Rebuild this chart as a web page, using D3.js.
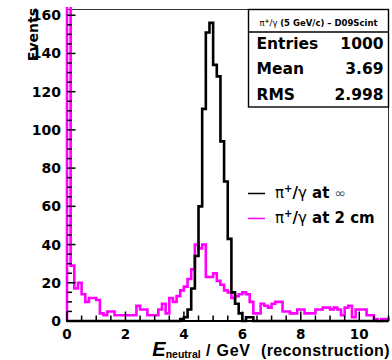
<!DOCTYPE html>
<html><head><meta charset="utf-8">
<script src="https://cdn.jsdelivr.net/npm/d3@7/dist/d3.min.js"></script>
<style>
body{margin:0;background:#fff}
svg text{font-family:"DejaVu Sans",sans-serif;font-weight:bold;fill:#000}
</style>
</head><body>
<svg id="chart" width="392" height="360"></svg>
<script>
// ---------------- data ----------------
const xRange = [0, 11];          // histogram axis range (GeV)
const binWidth = 0.125;          // 88 bins
const yRange = [0, 163];
const xTickLabels = [0, 2, 4, 6, 8, 10];
const yTickLabels = [0, 20, 40, 60, 80, 100, 120, 140, 160];

// pi+/gamma at infinity (black)
const blackCounts = [
  0,0,0,0,0,0,0,0,0,0,
  0,0,0,0,0,0,0,0,0,0,
  0,0,0,0,0,0,0,0,0,0,
  0,1,2,6,17,34,60,111,151,156,
  134,128,94,73,43,15,9,4,0,2,
  2,0,0,0,0,0,0,0,0,0,
  0,0,0,0,0,0,0,0,0,0,
  0,0,0,0,0,0,0,0,0,0,
  0,0,0,0,0,0,0,0
];
// pi+/gamma at 2 cm (magenta)
const magentaCounts = [
  250,29,17,20,14,10,12,12,11,4,
  3,5,5,3,3,3,3,3,3,8,
  6,6,3,3,3,6,9,4,12,10,
  13,16,18,22,27,40,38,40,23,23,
  25,21,19,16,15,12,13,14,15,14,
  10,4,4,9,8,7,9,10,10,5,
  5,4,4,6,6,4,4,4,6,6,
  7,7,6,7,6,3,7,8,2,6,
  6,6,3,3,1,0,1,1
];
const legendLabels = ["at \u221E", "at 2 cm"];
const statsTitle = "(5 GeV/c) \u2013 D09Scint";
const statsNames = ["Entries", "Mean", "RMS"];
const statsValues = ["1000", "3.69", "2.998"];

// ---------------- layout ----------------
const L = 67, R = 388.5, T = 9.5, B = 321;
const svg = d3.select("#chart");
const x = d3.scaleLinear().domain(xRange).range([L, R]);
const y = d3.scaleLinear().domain(yRange).range([B, T]);

svg.append("defs").append("clipPath").attr("id", "clip")
  .append("rect").attr("x", 55).attr("y", 7).attr("width", 340).attr("height", B - 7 + 5);

// frame (top/right thin)
svg.append("path")
  .attr("d", `M${L},${T}H${R}V${B}`)
  .attr("fill", "none").attr("stroke", "#333").attr("stroke-width", 1);

// y axis line
svg.append("line").attr("x1", L).attr("x2", L).attr("y1", T).attr("y2", B)
  .attr("stroke", "#000").attr("stroke-width", 2);

function stepPoints(counts) {
  const pts = [[xRange[0], 0]];
  counts.forEach((c, i) => {
    pts.push([i * binWidth, c]);
    pts.push([(i + 1) * binWidth, c]);
  });
  pts.push([xRange[1], 0]);
  return pts;
}
const line = d3.line().x(d => x(d[0])).y(d => y(Math.min(d[1], yRange[1] + 2)));

const hg = svg.append("g").attr("clip-path", "url(#clip)");
hg.append("path").attr("d", line(stepPoints(magentaCounts)))
  .attr("fill", "none").attr("stroke", "#ff00ff").attr("stroke-width", 2.6)
  .attr("stroke-linejoin", "miter");
hg.append("path").attr("d", line(stepPoints(blackCounts)))
  .attr("fill", "none").attr("stroke", "#000").attr("stroke-width", 2.6)
  .attr("stroke-linejoin", "miter");

// x axis line
svg.append("line").attr("x1", L - 1).attr("x2", R).attr("y1", B).attr("y2", B)
  .attr("stroke", "#000").attr("stroke-width", 2);

// ticks
const ax = svg.append("g");
const xMinor = d3.range(xRange[0], xRange[1] + 0.001, 0.5);
xMinor.forEach(v => {
  const major = Math.abs(v % 2) < 1e-9;
  ax.append("line").attr("x1", x(v)).attr("x2", x(v))
    .attr("y1", B).attr("y2", B - (major ? 9.5 : 5.5))
    .attr("stroke", "#000").attr("stroke-width", 1.5);
});
const yMinor = d3.range(0, yRange[1], 5);
yMinor.forEach(v => {
  const major = v % 20 === 0;
  ax.append("line").attr("x1", L).attr("x2", L + (major ? 8.5 : 5))
    .attr("y1", y(v)).attr("y2", y(v))
    .attr("stroke", "#000").attr("stroke-width", 1.5);
});

// tick labels
svg.append("g").selectAll("text").data(xTickLabels).join("text")
  .attr("x", d => x(d)).attr("y", 338.5)
  .attr("text-anchor", "middle").attr("font-size", 13.5)
  .text(d => d);
svg.append("g").selectAll("text").data(yTickLabels).join("text")
  .attr("x", 61).attr("y", d => y(d)).attr("dy", "0.36em")
  .attr("text-anchor", "end").attr("font-size", 14)
  .text(d => d);

// axis titles
svg.append("text").attr("transform", "translate(38,8) rotate(-90)")
  .attr("text-anchor", "end").attr("font-size", 14).text("Events");

const xt = svg.append("text").attr("x", 390).attr("y", 355.5)
  .attr("text-anchor", "end").style("white-space", "pre")
  .style("font-family", "'Liberation Sans',Arial,sans-serif");
xt.append("tspan").attr("font-size", 20).attr("font-style", "italic").text("E");
xt.append("tspan").attr("font-size", 10.5).attr("dy", 2).text("neutral");
xt.append("tspan").attr("font-size", 16).attr("dy", -2).style("letter-spacing", "0.8px").text(" / GeV ");
xt.append("tspan").attr("font-size", 16).style("letter-spacing", "0.4px").text(" (reconstruction)");

// stats box
const sb = svg.append("g");
const sbL = 248.5, sbT = T, sbB = 107;
sb.append("rect").attr("x", sbL).attr("y", sbT).attr("width", R - sbL).attr("height", sbB - sbT)
  .attr("fill", "#fff").attr("stroke", "#000").attr("stroke-width", 1.4);
sb.append("line").attr("x1", sbL).attr("x2", R).attr("y1", 32).attr("y2", 32)
  .attr("stroke", "#000").attr("stroke-width", 1.4);
const st = sb.append("text").attr("x", (sbL + R) / 2).attr("y", 25.5)
  .attr("text-anchor", "middle").attr("font-size", 8.5);
st.append("tspan").attr("font-weight", "normal").text("\u03C0");
st.append("tspan").attr("font-size", 6).attr("dy", -3).text("+");
st.append("tspan").attr("dy", 3).attr("font-weight", "normal").text("/\u03B3 ");
st.append("tspan").text(statsTitle);
statsNames.forEach((n, i) => {
  const by = 48.5 + i * 25.5;
  sb.append("text").attr("x", 256.5).attr("y", by).attr("font-size", 15.5).text(n);
  sb.append("text").attr("x", 383.5).attr("y", by).attr("text-anchor", "end")
    .attr("font-size", 15.5).text(statsValues[i]);
});

// legend
const lg = svg.append("g");
const legColors = ["#000", "#ff00ff"];
legendLabels.forEach((lab, i) => {
  const ly = 193.5 + i * 25;
  lg.append("line").attr("x1", 248).attr("x2", 265).attr("y1", ly).attr("y2", ly)
    .attr("stroke", legColors[i]).attr("stroke-width", 1.5);
  const t = lg.append("text").attr("x", 275).attr("y", ly + 4.5).attr("font-size", 15);
  t.append("tspan").attr("font-weight", "normal").text("\u03C0");
  t.append("tspan").attr("font-size", 10).attr("dy", -6).text("+");
  t.append("tspan").attr("dy", 6).text("/");
  t.append("tspan").attr("font-weight", "normal").text("\u03B3");
  if (lab.includes("\u221E")) {
    t.append("tspan").text(" at ");
    t.append("tspan").attr("font-weight", "normal").attr("fill", "#555").attr("font-size", 14).text("\u221E");
  } else {
    t.append("tspan").text(" " + lab);
  }
});
</script>
</body></html>
